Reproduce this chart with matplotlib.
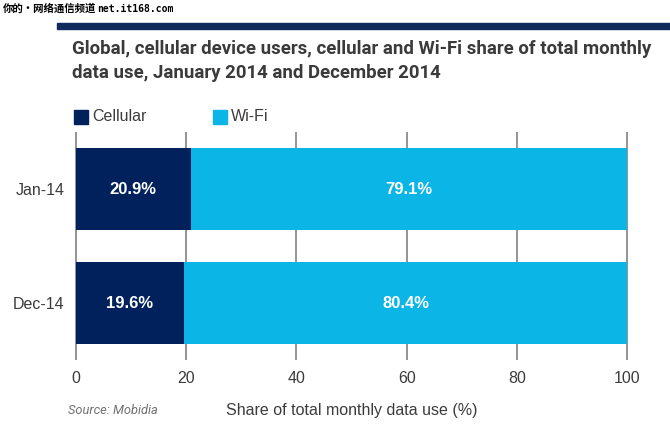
import matplotlib.pyplot as plt
from matplotlib.patches import Rectangle

# data
periods = ['Jan-14', 'Dec-14']
cellular = [20.9, 19.6]
wifi = [79.1, 80.4]
xticks = [0, 20, 40, 60, 80, 100]

navy = '#00215b'
cyan = '#0bb5e6'
grey_text = '#3c3c3c'

plt.rcParams['font.family'] = 'Liberation Sans'

fig = plt.figure(figsize=(6.7, 4.45), dpi=100)
ax = fig.add_axes([74 / 670, 1 - 360 / 445, 555 / 670, 228 / 445])

ypos = list(range(len(periods)))
ax.barh(ypos, cellular, height=0.72, color=navy, zorder=2)
ax.barh(ypos, wifi, left=cellular, height=0.72, color=cyan, zorder=2)

for y, c, w in zip(ypos, cellular, wifi):
    ax.text(c / 2, y, f'{c}%', color='white', fontsize=12, fontweight='bold',
            ha='center', va='center', zorder=3)
    ax.text(c + w / 2, y, f'{w}%', color='white', fontsize=12, fontweight='bold',
            ha='center', va='center', zorder=3)

ax.set_xlim(-0.3, 100.3)
ax.set_ylim(1.5, -0.5)
ax.set_xticks(xticks)
ax.set_yticks(ypos)
ax.set_yticklabels(periods)
ax.tick_params(axis='both', length=0, labelsize=11.5, labelcolor=grey_text)
ax.tick_params(axis='x', pad=8)
ax.tick_params(axis='y', pad=7)
for x in xticks:
    ax.axvline(x, color='#777777', linewidth=1.1, zorder=1)
for s in ax.spines.values():
    s.set_visible(False)

ax.set_xlabel('Share of total monthly data use (%)', fontsize=11.5, color=grey_text, labelpad=12)

# legend
fig.patches.append(Rectangle((74 / 670, 1 - 124 / 445), 14 / 670, 14 / 445,
                             transform=fig.transFigure, color=navy))
fig.text(92 / 670, 1 - 117 / 445, 'Cellular', fontsize=11.5, color=grey_text, va='center')
fig.patches.append(Rectangle((213 / 670, 1 - 124 / 445), 14 / 670, 14 / 445,
                             transform=fig.transFigure, color=cyan))
fig.text(231 / 670, 1 - 117 / 445, 'Wi-Fi', fontsize=11.5, color=grey_text, va='center')

# header rule and title
fig.patches.append(Rectangle((57 / 670, 1 - 29 / 445), 613 / 670, 6 / 445,
                             transform=fig.transFigure, color='#0f2a5c'))
fig.text(72 / 670, 1 - 40 / 445,
         'Global, cellular device users, cellular and Wi-Fi share of total monthly\n'
         'data use, January 2014 and December 2014',
         fontsize=13.4, fontweight='bold', color='#3a3a3a', va='top',
         linespacing=1.4, family='Roboto')

fig.text(68 / 670, 1 - 410 / 445, 'Source: Mobidia', fontsize=9.3, style='italic',
         color='#707070', va='center', family='Roboto')

# watermark
fig.text(3 / 670, 1 - 9 / 445, '你的·网络通信频道', fontsize=7.5, fontweight='bold',
         family=['Noto Sans CJK SC', 'DejaVu Sans'], va='center')
fig.text(97 / 670, 1 - 9 / 445, 'net.it168.com', fontsize=7, fontweight='bold',
         family='DejaVu Sans Mono', va='center')

fig.savefig('out.png', dpi=100)
